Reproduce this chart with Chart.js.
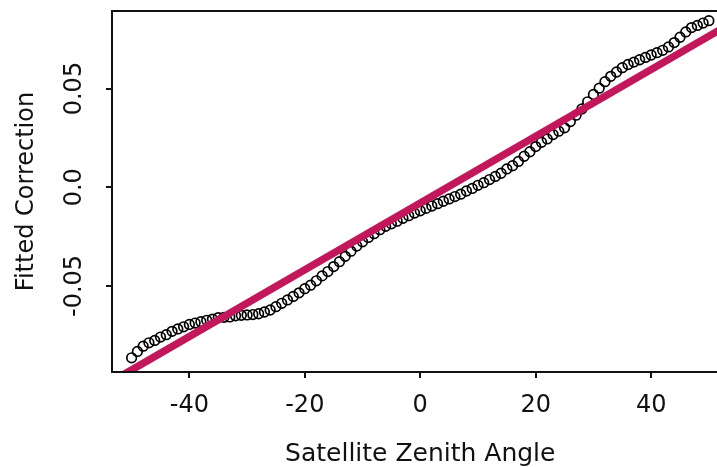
<!DOCTYPE html>
<html>
<head>
<meta charset="utf-8">
<script src="https://cdn.jsdelivr.net/npm/chart.js@4/dist/chart.umd.min.js"></script>
<style>
  html, body { margin: 0; padding: 0; overflow: hidden; background: #fff; }
  canvas { display: block; }
</style>
</head>
<body>
<canvas id="fitChart" width="735" height="467"></canvas>
<script>
// satellite zenith angle (deg) and fitted correction
const angles = [
  -50, -49, -48, -47, -46, -45, -44, -43, -42, -41,
  -40, -39, -38, -37, -36, -35, -34, -33, -32, -31,
  -30, -29, -28, -27, -26, -25, -24, -23, -22, -21,
  -20, -19, -18, -17, -16, -15, -14, -13, -12, -11,
  -10, -9, -8, -7, -6, -5, -4, -3, -2, -1,
  0, 1, 2, 3, 4, 5, 6, 7, 8, 9,
  10, 11, 12, 13, 14, 15, 16, 17, 18, 19,
  20, 21, 22, 23, 24, 25, 26, 27, 28, 29,
  30, 31, 32, 33, 34, 35, 36, 37, 38, 39,
  40, 41, 42, 43, 44, 45, 46, 47, 48, 49, 50
];
const correction = [
  -0.0864, -0.0832, -0.0805, -0.0788, -0.0776, -0.0759, -0.0747, -0.0730, -0.0718, -0.0707,
  -0.0695, -0.0688, -0.0681, -0.0674, -0.0668, -0.0661, -0.0659, -0.0657, -0.0651, -0.0649,
  -0.0647, -0.0645, -0.0641, -0.0632, -0.0622, -0.0605, -0.0588, -0.0571, -0.0553, -0.0535,
  -0.0514, -0.0496, -0.0474, -0.0449, -0.0427, -0.0402, -0.0377, -0.0350, -0.0324, -0.0298,
  -0.0276, -0.0254, -0.0235, -0.0215, -0.0198, -0.0185, -0.0172, -0.0157, -0.0144, -0.0131,
  -0.0119, -0.0107, -0.0095, -0.0083, -0.0071, -0.0059, -0.0047, -0.0035, -0.0019, -0.0006,
  0.0010, 0.0023, 0.0039, 0.0055, 0.0071, 0.0093, 0.0109, 0.0131, 0.0157, 0.0180,
  0.0206, 0.0228, 0.0245, 0.0267, 0.0284, 0.0301, 0.0333, 0.0365, 0.0397, 0.0433,
  0.0470, 0.0502, 0.0535, 0.0562, 0.0584, 0.0606, 0.0622, 0.0634, 0.0646, 0.0658,
  0.0670, 0.0682, 0.0694, 0.0711, 0.0733, 0.0760, 0.0787, 0.0809, 0.0820, 0.0832, 0.0844
];
// straight fitted line, end points
const fitX = [-55, 55];
const fitY = [-0.1010, 0.0850];

const xTicks = [-40, -20, 0, 20, 40];
const xTickLabels = ['-40', '-20', '0', '20', '40'];
const yTicks = [-0.05, 0, 0.05];
const yTickLabels = ['-0.05', '0.0', '0.05'];

const FONT = 'DejaVu Sans';

const frame = {
  id: 'frame',
  afterDatasetsDraw(chart) {
    const {ctx, chartArea: a} = chart;
    ctx.save();
    ctx.strokeStyle = '#111';
    ctx.lineWidth = 2;
    ctx.strokeRect(a.left, a.top, a.right - a.left, a.bottom - a.top);
    ctx.restore();
  }
};

new Chart(document.getElementById('fitChart'), {
  type: 'scatter',
  data: {
    datasets: [{
      label: 'Linear fit',
      data: fitX.map((x, i) => ({x: x, y: fitY[i]})),
      showLine: true,
      borderColor: '#c2185b',
      borderWidth: 7.5,
      pointRadius: 0,
      order: 0
    }, {
      label: 'Fitted correction',
      data: angles.map((x, i) => ({x: x, y: correction[i]})),
      pointStyle: 'circle',
      pointRadius: 4.8,
      pointBorderWidth: 1.7,
      borderColor: '#000',
      backgroundColor: 'rgba(0,0,0,0)',
      order: 1
    }]
  },
  options: {
    responsive: false,
    animation: false,
    devicePixelRatio: 1,
    layout: { padding: { left: 0, right: 0, top: 11, bottom: 0 } },
    plugins: { legend: { display: false }, tooltip: { enabled: false } },
    scales: {
      x: {
        type: 'linear',
        min: -53.4,
        max: 53.4,
        afterBuildTicks: s => { s.ticks = xTicks.map(v => ({value: v})); },
        afterFit: s => { s.height = 95; s.paddingLeft = 0; s.paddingRight = 0; },
        ticks: {
          color: '#111',
          font: { family: FONT, size: 24 },
          padding: 13,
          maxRotation: 0,
          callback: (v, i) => xTickLabels[i]
        },
        grid: { drawOnChartArea: false, drawTicks: true, tickLength: 6, color: '#111', lineWidth: 2 },
        border: { display: false },
        title: {
          display: true,
          text: 'Satellite Zenith Angle',
          color: '#111',
          font: { family: FONT, size: 25, lineHeight: 1 },
          padding: 0
        }
      },
      y: {
        type: 'linear',
        min: -0.0936,
        max: 0.0893,
        afterBuildTicks: s => { s.ticks = yTicks.map(v => ({value: v})); },
        afterFit: s => { s.width = 112; s.paddingTop = 0; s.paddingBottom = 0; },
        ticks: {
          color: '#111',
          font: { family: FONT, size: 24 },
          padding: 0,
          minRotation: 90,
          maxRotation: 90,
          crossAlign: 'center',
          callback: (v, i) => yTickLabels[i]
        },
        grid: { drawOnChartArea: false, drawTicks: true, tickLength: 6, color: '#111', lineWidth: 2 },
        border: { display: false },
        title: {
          display: true,
          text: 'Fitted Correction',
          color: '#111',
          font: { family: FONT, size: 24, lineHeight: 1 },
          padding: { top: 14.5, bottom: 0 }
        }
      }
    }
  },
  plugins: [frame]
});
</script>
</body>
</html>
